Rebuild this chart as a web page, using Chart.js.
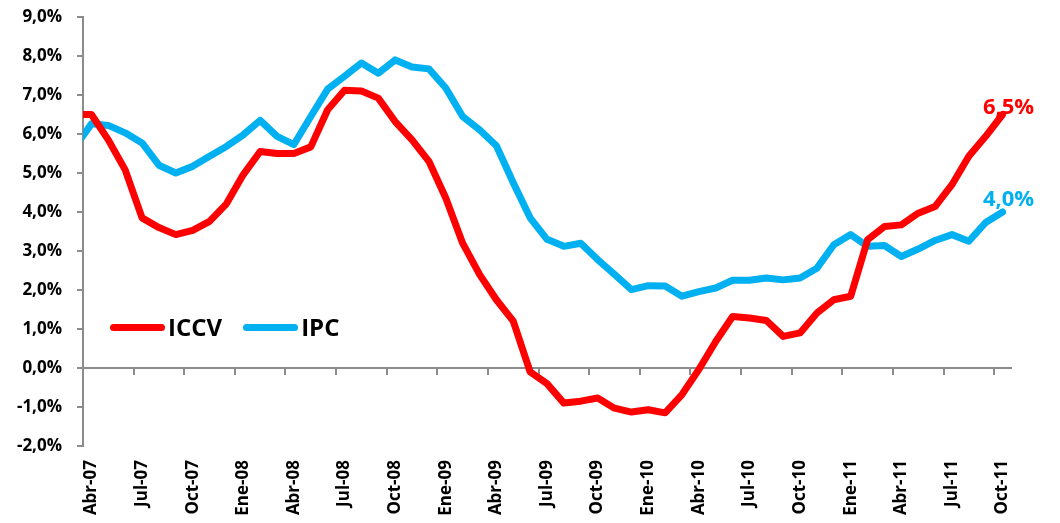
<!DOCTYPE html>
<html>
<head>
<meta charset="utf-8">
<script src="https://cdn.jsdelivr.net/npm/chart.js@4.4.0/dist/chart.umd.min.js"></script>
<style>
  html, body { margin: 0; padding: 0; background: #fff; }
  #wrap { position: relative; width: 1060px; height: 523px; }
  #legend { position: absolute; left: 110px; top: 315px; height: 24px; display: flex; align-items: center;
            font: bold 24px "Open Sans"; line-height: 24px; color: #000; }
  #legend .swatch { width: 55px; height: 7px; border-radius: 4px; margin-right: 3px; }
  #legend .item { display: flex; align-items: center; margin-right: 21px; }
</style>
</head>
<body>
<div id="wrap">
  <canvas id="chart" width="1060" height="523"></canvas>
  <div id="legend"></div>
</div>
<script>
// first entry (Mar-07) sits just left of the visible axis and is clipped
var months = ['Mar-07', 'Abr-07', 'May-07', 'Jun-07', 'Jul-07', 'Ago-07', 'Sep-07', 'Oct-07', 'Nov-07', 'Dic-07',
  'Ene-08', 'Feb-08', 'Mar-08', 'Abr-08', 'May-08', 'Jun-08', 'Jul-08', 'Ago-08', 'Sep-08', 'Oct-08', 'Nov-08', 'Dic-08',
  'Ene-09', 'Feb-09', 'Mar-09', 'Abr-09', 'May-09', 'Jun-09', 'Jul-09', 'Ago-09', 'Sep-09', 'Oct-09', 'Nov-09', 'Dic-09',
  'Ene-10', 'Feb-10', 'Mar-10', 'Abr-10', 'May-10', 'Jun-10', 'Jul-10', 'Ago-10', 'Sep-10', 'Oct-10', 'Nov-10', 'Dic-10',
  'Ene-11', 'Feb-11', 'Mar-11', 'Abr-11', 'May-11', 'Jun-11', 'Jul-11', 'Ago-11', 'Sep-11', 'Oct-11'];

var iccv = [6.5, 6.5, 5.85, 5.08, 3.85, 3.6, 3.42, 3.53, 3.76, 4.21,
  4.96, 5.55, 5.5, 5.5, 5.67, 6.62, 7.12, 7.1, 6.92, 6.32, 5.85, 5.3,
  4.36, 3.2, 2.4, 1.75, 1.2, -0.1, -0.4, -0.9, -0.85, -0.77, -1.03, -1.13,
  -1.07, -1.15, -0.68, -0.04, 0.68, 1.32, 1.28, 1.22, 0.81, 0.9, 1.41, 1.75,
  1.84, 3.29, 3.63, 3.67, 3.97, 4.14, 4.7, 5.43, 5.94, 6.5];

var ipc = [5.65, 6.26, 6.22, 6.03, 5.77, 5.2, 5.0, 5.17, 5.43, 5.68,
  5.98, 6.35, 5.94, 5.73, 6.45, 7.15, 7.48, 7.82, 7.56, 7.9, 7.72, 7.67,
  7.18, 6.45, 6.11, 5.7, 4.75, 3.85, 3.3, 3.12, 3.2, 2.78, 2.4, 2.01,
  2.11, 2.1, 1.84, 1.96, 2.05, 2.25, 2.25, 2.31, 2.26, 2.31, 2.56, 3.16,
  3.42, 3.12, 3.14, 2.86, 3.05, 3.27, 3.42, 3.25, 3.73, 4.0];

var yMin = -2, yMax = 9, yStep = 1;
var axisColor = '#8c8c8c';
var tickFont = { family: 'Open Sans', size: 17, weight: 'bold' };

function pct(v) {
  return v.toFixed(1).replace('.', ',') + '%';
}

// value label next to the last point of each line
var endLabels = {
  id: 'endLabels',
  afterDatasetsDraw: function(chart) {
    var ctx = chart.ctx;
    chart.data.datasets.forEach(function(ds, i) {
      var meta = chart.getDatasetMeta(i);
      var pt = meta.data[meta.data.length - 1];
      ctx.save();
      ctx.font = 'bold 22px "Open Sans"';
      ctx.fillStyle = ds.borderColor;
      ctx.textAlign = 'center';
      ctx.textBaseline = 'alphabetic';
      ctx.fillText(pct(ds.data[ds.data.length - 1]), pt.x + 6, pt.y + ds.labelDy);
      ctx.restore();
    });
  }
};

var ctx = document.getElementById('chart').getContext('2d');
var chart = new Chart(ctx, {
  type: 'line',
  data: {
    labels: months,
    datasets: [
      {
        label: 'ICCV',
        data: iccv,
        borderColor: '#ff0000',
        backgroundColor: '#ff0000',
        labelDy: -1
      },
      {
        label: 'IPC',
        data: ipc,
        borderColor: '#00b0f0',
        backgroundColor: '#00b0f0',
        labelDy: -6
      }
    ]
  },
  options: {
    responsive: false,
    animation: false,
    layout: { padding: { left: 0, right: 49, top: 17, bottom: 0 } },
    elements: {
      line: { borderWidth: 7, tension: 0, borderJoinStyle: 'round', borderCapStyle: 'round', fill: false },
      point: { radius: 0, hoverRadius: 0 }
    },
    datasets: {
      line: { clip: { left: 0, top: false, right: false, bottom: false } }
    },
    plugins: {
      legend: { display: false },
      tooltip: { enabled: false }
    },
    scales: {
      x: {
        type: 'category',
        min: 'Abr-07',
        offset: true,
        grid: { display: false, drawTicks: false },
        border: { display: false },
        ticks: {
          autoSkip: false,
          maxRotation: 90,
          minRotation: 90,
          padding: 14,
          color: '#000',
          font: tickFont,
          callback: function(value, index) {
            return index % 3 === 0 ? this.getLabelForValue(value) : '';
          }
        },
        afterFit: function(scale) { scale.height = 77; }
      },
      x0: {
        type: 'category',
        axis: 'x',
        position: { y: 0 },
        min: 'Abr-07',
        offset: true,
        ticks: { display: false },
        grid: {
          offset: true,
          drawOnChartArea: false,
          tickLength: 6,
          lineWidth: 2,
          color: function(c) {
            return (c.index > 0 && c.index % 3 === 0) ? axisColor : 'rgba(0,0,0,0)';
          }
        },
        border: { color: axisColor, width: 2 }
      },
      y: {
        min: yMin,
        max: yMax,
        ticks: {
          stepSize: yStep,
          padding: 15,
          color: '#000',
          font: tickFont,
          callback: function(v) { return pct(v); }
        },
        grid: { drawOnChartArea: false, tickLength: 6, lineWidth: 2, color: axisColor },
        border: { color: axisColor, width: 2 },
        afterFit: function(scale) {
          scale.width = 83;
          scale.paddingTop = 0;
          scale.paddingBottom = 0;
        }
      }
    }
  },
  plugins: [endLabels]
});

// legend built from the datasets, placed inside the plot like the original
var legend = document.getElementById('legend');
chart.data.datasets.forEach(function(ds) {
  var item = document.createElement('div');
  item.className = 'item';
  var sw = document.createElement('div');
  sw.className = 'swatch';
  sw.style.background = ds.borderColor;
  var txt = document.createElement('span');
  txt.textContent = ds.label;
  item.appendChild(sw);
  item.appendChild(txt);
  legend.appendChild(item);
});
</script>
</body>
</html>
